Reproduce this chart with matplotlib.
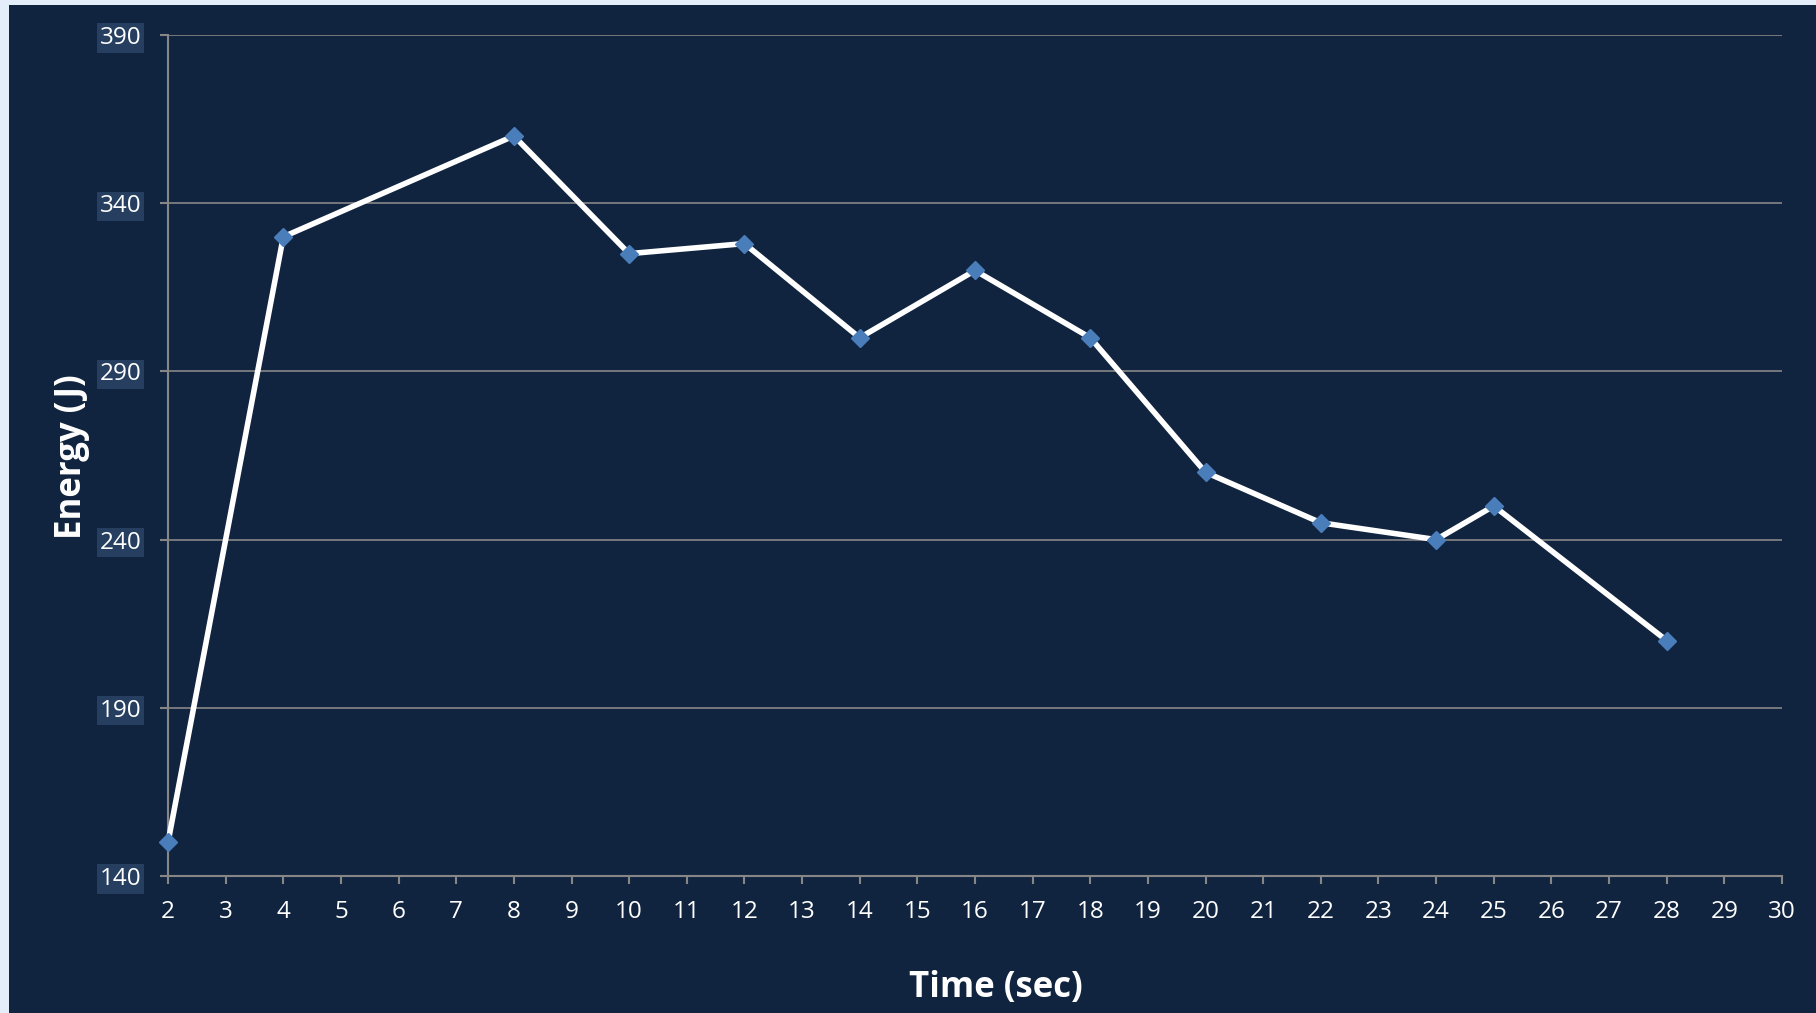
import matplotlib
matplotlib.use('Agg')
import matplotlib.pyplot as plt
from matplotlib.patches import Rectangle

# Datos
tiempo = [2, 4, 8, 10, 12, 14, 16, 18, 20, 22, 24, 25, 28]
energia = [150, 330, 360, 325, 328, 300, 320, 300, 260, 245, 240, 250, 210]
y_ticks = [140, 190, 240, 290, 340, 390]
x_ticks = list(range(2, 31))

navy = '#11243f'
gris = '#868686'

plt.rcParams['font.family'] = ['Open Sans', 'DejaVu Sans']

fig = plt.figure(figsize=(18.16, 10.13), dpi=100, facecolor='#e4eefb')
fig.patches.append(Rectangle((9 / 1816, 0), 1, 1 - 5 / 1013, transform=fig.transFigure,
                             facecolor=navy, edgecolor='none', zorder=-1))

ax = fig.add_axes([168 / 1816, 1 - 876 / 1013, (1782 - 168) / 1816, (876 - 35) / 1013])
ax.set_facecolor(navy)

ax.plot(tiempo, energia, color='white', lw=4, marker='D', markersize=9,
        markerfacecolor='#4a7ebb', markeredgecolor='#4a7ebb', zorder=3, clip_on=False)

ax.set_xlim(2, 30)
ax.set_ylim(140, 390)
ax.set_xticks(x_ticks)
ax.set_yticks(y_ticks)
ax.grid(axis='y', color=gris, lw=1.2)
ax.set_axisbelow(True)

for lado in ['top', 'right']:
    ax.spines[lado].set_visible(False)
for lado in ['left', 'bottom']:
    ax.spines[lado].set_color(gris)
    ax.spines[lado].set_linewidth(1.5)

ax.tick_params(axis='both', colors=gris, length=6, width=1.5, labelsize=17.5, labelcolor='white')
ax.tick_params(axis='x', pad=11)
ax.tick_params(axis='y', pad=13)
for t in ax.get_yticklabels():
    t.set_bbox(dict(facecolor='#263f60', edgecolor='none', pad=2))

ax.set_xlabel('Time (sec)', color='white', fontsize=25, fontweight='bold', va='center')
ax.set_ylabel('Energy (J)', color='white', fontsize=25, fontweight='bold', va='center')
ax.xaxis.set_label_coords(0.513, -0.133)
ax.yaxis.set_label_coords(-0.0595, 0.499)

fig.savefig('out.png', dpi=100, facecolor=fig.get_facecolor())
